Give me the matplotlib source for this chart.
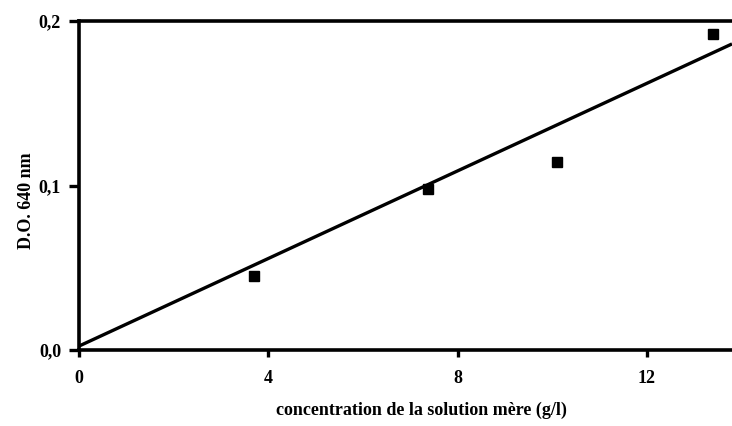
import numpy as np
import matplotlib
matplotlib.use("Agg")
import matplotlib.pyplot as plt

# points mesurés
concentration = [3.70, 7.38, 10.10, 13.40]
densite_optique = [0.0448, 0.0978, 0.1141, 0.1923]

# droite d'étalonnage
droite_x = [0.0, 13.8]
droite_y = [0.0025, 0.186]

xticks = [0, 4, 8, 12]
yticks = [0.0, 0.1, 0.2]
ytick_labels = ["0,0", "0,1", "0,2"]

plt.rcParams['font.family'] = ['Liberation Serif', 'DejaVu Serif']

fig = plt.figure(figsize=(7.32, 4.26), dpi=100)
ax = fig.add_axes([0.108, 0.178, 0.892, 0.773])

ax.plot(droite_x, droite_y, color='black', linewidth=2.4, solid_capstyle='butt')
ax.plot(concentration, densite_optique, linestyle='none', marker='s',
        markersize=7, color='black')

ax.set_xlim(0, 13.8)
ax.set_ylim(0, 0.2)
ax.set_xticks(xticks)
ax.set_yticks(yticks)
ax.set_yticklabels(ytick_labels)

for side in ['left', 'top', 'bottom']:
    ax.spines[side].set_linewidth(2.6)
ax.spines['right'].set_visible(False)

ax.tick_params(axis='x', direction='out', length=5, width=2.4,
               labelsize=13, pad=9)
ax.tick_params(axis='y', direction='out', length=7, width=2.4,
               labelsize=13, pad=6)
for lab in ax.get_xticklabels() + ax.get_yticklabels():
    lab.set_fontweight('bold')

ax.set_xlabel("concentration de la solution mère (g/l)", fontsize=13,
              fontweight='bold')
ax.set_ylabel("D.O. 640 nm", fontsize=13, fontweight='bold')
ax.xaxis.set_label_coords(0.524, -0.182)
ax.yaxis.set_label_coords(-0.08, 0.453)
ax.xaxis.label.set_va('center')
ax.yaxis.label.set_va('center')

fig.savefig("out.png", dpi=100)
